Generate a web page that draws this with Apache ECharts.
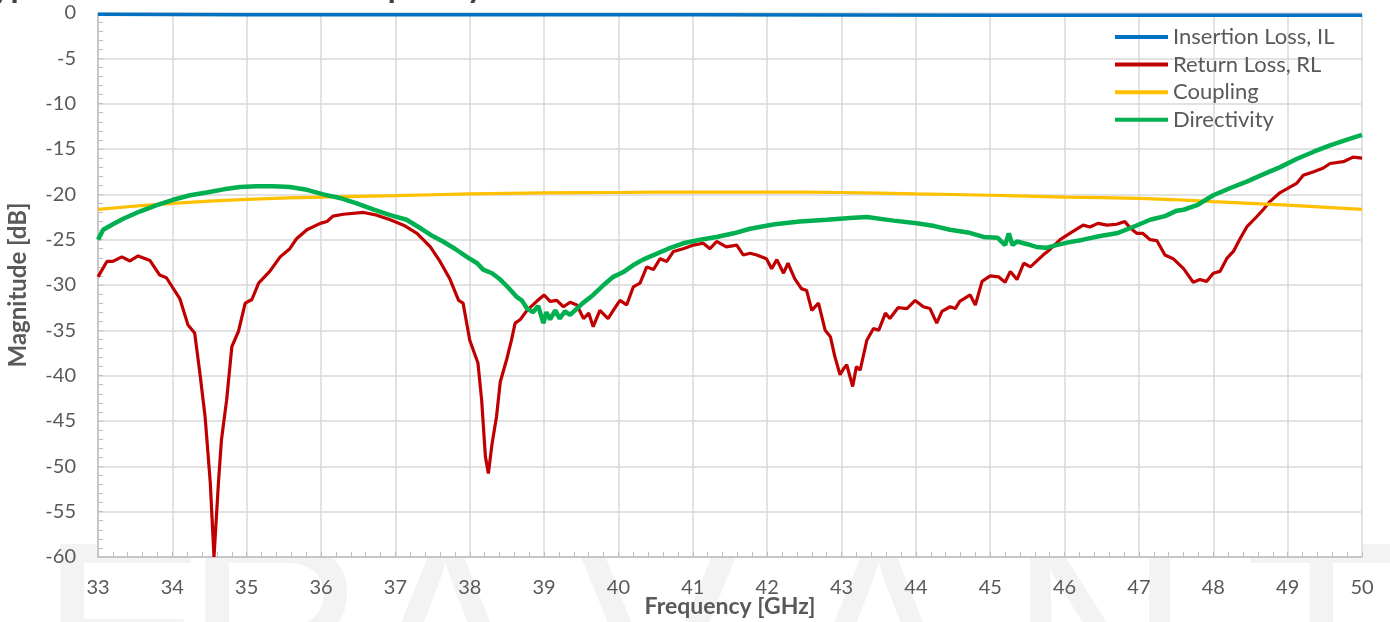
<!DOCTYPE html>
<html><head><meta charset="utf-8">
<script src="https://cdn.jsdelivr.net/npm/echarts@6/dist/echarts.min.js"></script>
<style>html,body{margin:0;padding:0;background:#fff}#c{width:1390px;height:622px}</style>
</head><body><div id="c"></div><script>
const seriesNames = ['Insertion Loss, IL', 'Return Loss, RL', 'Coupling', 'Directivity'];
const xTickLabels = ['33','34','35','36','37','38','39','40','41','42','43','44','45','46','47','48','49','50'];

const ilFreq = [33, 35, 37, 39, 41, 43, 45, 47, 50];
const ilVal  = [-0.15, -0.18, -0.2, -0.2, -0.2, -0.22, -0.24, -0.25, -0.26];

const rlFreq = [33.00,33.12,33.20,33.32,33.43,33.54,33.70,33.83,33.92,34.10,34.21,34.30,34.37,34.44,34.51,34.56,34.62,34.66,34.73,34.80,34.89,34.98,35.07,35.16,35.31,35.45,35.58,35.67,35.81,35.99,36.08,36.16,36.30,36.57,36.75,36.93,37.11,37.29,37.47,37.60,37.73,37.85,37.91,38.00,38.11,38.16,38.21,38.25,38.30,38.36,38.41,38.50,38.56,38.61,38.68,38.77,38.90,39.00,39.08,39.17,39.26,39.35,39.44,39.53,39.60,39.66,39.75,39.86,39.93,40.02,40.11,40.20,40.29,40.38,40.47,40.56,40.65,40.74,40.87,41.01,41.14,41.23,41.32,41.45,41.59,41.68,41.77,41.86,41.99,42.06,42.13,42.22,42.28,42.37,42.46,42.53,42.60,42.69,42.78,42.85,42.91,42.98,43.03,43.07,43.15,43.20,43.25,43.34,43.43,43.50,43.59,43.65,43.76,43.88,43.99,44.10,44.19,44.28,44.35,44.46,44.53,44.59,44.73,44.80,44.89,45.00,45.11,45.20,45.27,45.36,45.45,45.54,45.62,45.71,45.80,45.94,46.07,46.25,46.34,46.45,46.57,46.70,46.81,46.88,46.97,47.05,47.15,47.24,47.35,47.46,47.60,47.73,47.82,47.91,48.00,48.09,48.18,48.27,48.36,48.45,48.58,48.67,48.76,48.90,49.03,49.12,49.21,49.35,49.48,49.57,49.75,49.88,50.00];
const rlVal  = [-29.1,-27.4,-27.4,-26.9,-27.35,-26.8,-27.3,-28.9,-29.2,-31.5,-34.4,-35.3,-39.7,-44.5,-51.8,-60,-51.8,-47.1,-42.7,-36.8,-35.1,-32.0,-31.6,-29.8,-28.5,-26.9,-26.0,-24.9,-23.9,-23.2,-23.0,-22.4,-22.2,-22.0,-22.3,-22.8,-23.4,-24.3,-25.8,-27.4,-29.3,-31.7,-32.0,-36.1,-38.6,-42.7,-48.9,-50.8,-47.5,-44.5,-40.7,-38.1,-36.1,-34.2,-33.8,-32.8,-31.8,-31.1,-31.8,-31.7,-32.4,-31.9,-32.2,-33.7,-33.1,-34.6,-32.8,-33.7,-32.8,-31.7,-32.2,-30.2,-29.8,-28.0,-28.3,-27.1,-27.4,-26.3,-26.0,-25.6,-25.4,-26.0,-25.2,-25.8,-25.6,-26.7,-26.5,-26.7,-27.1,-28.2,-27.2,-28.7,-27.6,-29.3,-30.4,-30.6,-32.8,-32.0,-35.0,-35.7,-37.9,-39.9,-39.2,-38.8,-41.2,-39.0,-39.4,-36.1,-34.8,-35.0,-33.1,-33.7,-32.5,-32.6,-31.7,-32.4,-32.6,-34.2,-32.9,-32.4,-32.6,-31.8,-31.1,-32.2,-29.6,-29.0,-29.1,-29.7,-28.5,-29.4,-27.6,-28.0,-27.4,-26.7,-26.1,-25.0,-24.3,-23.4,-23.6,-23.2,-23.4,-23.3,-23.0,-23.7,-24.3,-24.3,-25.0,-25.1,-26.7,-27.1,-28.2,-29.7,-29.4,-29.6,-28.7,-28.5,-27.1,-26.3,-24.9,-23.6,-22.5,-21.7,-20.8,-19.8,-19.2,-18.8,-17.9,-17.5,-17.1,-16.6,-16.4,-15.9,-16.0];

const cplFreq = [33, 34, 35, 36, 37, 38, 39, 40, 41, 42, 43, 44, 45, 46, 47, 47.5, 48, 49, 50];
const cplVal  = [-21.65, -21.0, -20.55, -20.3, -20.15, -19.95, -19.85, -19.8, -19.75, -19.75, -19.8, -19.95, -20.1, -20.3, -20.45, -20.6, -20.8, -21.2, -21.65];

const dirFreq = [33.00,33.07,33.20,33.34,33.56,33.79,34.01,34.24,34.46,34.69,34.91,35.13,35.36,35.58,35.81,36.03,36.25,36.48,36.70,36.93,37.15,37.35,37.50,37.64,37.80,37.96,38.10,38.18,38.30,38.41,38.52,38.63,38.70,38.77,38.85,38.92,38.99,39.03,39.08,39.15,39.21,39.28,39.35,39.44,39.52,39.66,39.80,39.93,40.06,40.20,40.33,40.47,40.67,40.87,41.10,41.32,41.55,41.77,42.10,42.44,42.80,43.11,43.34,43.70,44.01,44.25,44.46,44.70,44.91,45.10,45.20,45.25,45.30,45.36,45.50,45.62,45.75,45.89,46.05,46.25,46.48,46.70,46.92,47.15,47.35,47.51,47.60,47.78,48.00,48.23,48.45,48.67,48.90,49.12,49.35,49.57,49.79,50.00];
const dirVal  = [-25.0,-23.9,-23.3,-22.7,-21.9,-21.2,-20.6,-20.1,-19.8,-19.45,-19.2,-19.1,-19.1,-19.2,-19.5,-20.0,-20.4,-21.0,-21.65,-22.3,-22.8,-23.8,-24.6,-25.2,-26.0,-26.9,-27.6,-28.3,-28.7,-29.4,-30.3,-31.3,-31.7,-32.6,-33.0,-32.3,-34.2,-33.0,-33.8,-32.8,-33.7,-32.9,-33.3,-32.6,-32.0,-31.1,-30.0,-29.1,-28.6,-27.8,-27.2,-26.7,-26.0,-25.4,-25.0,-24.7,-24.3,-23.8,-23.3,-23.0,-22.8,-22.6,-22.5,-22.9,-23.2,-23.5,-23.9,-24.2,-24.7,-24.8,-25.6,-24.3,-25.6,-25.2,-25.5,-25.8,-25.9,-25.6,-25.3,-25.0,-24.6,-24.3,-23.6,-22.8,-22.4,-21.8,-21.7,-21.2,-20.1,-19.3,-18.6,-17.8,-17.0,-16.1,-15.3,-14.6,-14.0,-13.45];

const watermarkLetters = ['E','R','A','V','A','N','T'];
const watermarkX = [40, 185, 362, 575, 795, 1010, 1245];

const pair = (fs, vs) => fs.map((f, i) => [f, vs[i]]);
const FONT = 'Lato';
const colors = ['#0070c0', '#c00000', '#ffc000', '#00b050'];

const chart = echarts.init(document.getElementById('c'), null, {renderer: 'canvas'});
const graphics = watermarkLetters.map((ch, i) => ({
  type: 'text', z: -10, silent: true,
  style: {text: ch, x: watermarkX[i], y: 523, font: '250px "Liberation Sans"', fill: '#f3f3f3', verticalAlign: 'top'}
}));
graphics.push({
  type: 'text', silent: true,
  style: {text: 'Typical Performance vs. Frequency', x: -24, y: 4, font: 'bold 33px Lato', fill: '#404040', verticalAlign: 'bottom'}
});

chart.setOption({
  animation: false,
  backgroundColor: '#ffffff',
  color: colors,
  textStyle: {fontFamily: FONT},
  graphic: graphics,
  grid: {show: true, backgroundColor: '#ffffff', borderWidth: 0, left: 98, right: 28, top: 13, bottom: 65, containLabel: false, outerBoundsMode: 'none'},
  legend: {
    data: seriesNames, orient: 'vertical', left: 1110, top: 21,
    icon: 'rect', itemWidth: 53, itemHeight: 4, itemGap: 5.6,
    textStyle: {fontFamily: FONT, fontSize: 22, color: '#595959', lineHeight: 22, padding: [0, 0, 0, 0]}
  },
  xAxis: {
    type: 'value', min: 33, max: 50, interval: 1,
    name: 'Frequency [GHz]', nameLocation: 'middle', nameGap: 38, nameMoveOverlap: false,
    nameTextStyle: {fontFamily: FONT, fontWeight: 'bold', fontSize: 23, color: '#595959'},
    axisLine: {show: true, onZero: false, lineStyle: {color: '#bfbfbf', width: 1.5}},
    axisTick: {show: true, inside: true, length: 5, lineStyle: {color: '#bfbfbf'}},
    minorTick: {show: true, splitNumber: 5, length: 5, lineStyle: {color: '#bfbfbf'}},
    splitLine: {show: true, lineStyle: {color: '#d9d9d9', width: 1.5}},
    axisLabel: {margin: 21, fontFamily: FONT, fontSize: 20, color: '#595959',
      formatter: v => xTickLabels[Math.round(v - 33)] ?? ''}
  },
  yAxis: {
    type: 'value', min: -60, max: 0, interval: 5,
    name: 'Magnitude [dB]', nameLocation: 'middle', nameGap: 68, nameRotate: 90, nameMoveOverlap: false,
    nameTextStyle: {fontFamily: FONT, fontWeight: 'bold', fontSize: 24, color: '#595959'},
    axisLine: {show: true, onZero: false, lineStyle: {color: '#bfbfbf', width: 1.5}},
    axisTick: {show: true, inside: true, length: 5, lineStyle: {color: '#bfbfbf'}},
    minorTick: {show: true, splitNumber: 5, length: 5, lineStyle: {color: '#bfbfbf'}},
    splitLine: {show: true, lineStyle: {color: '#d9d9d9', width: 1.5}},
    axisLabel: {margin: 22, fontFamily: FONT, fontSize: 20, color: '#595959'}
  },
  series: [
    {name: seriesNames[0], type: 'line', data: pair(ilFreq, ilVal), showSymbol: false, symbol: 'none', lineStyle: {width: 3.5}, z: 2},
    {name: seriesNames[1], type: 'line', data: pair(rlFreq, rlVal), showSymbol: false, symbol: 'none', lineStyle: {width: 3.2}, z: 3},
    {name: seriesNames[2], type: 'line', data: pair(cplFreq, cplVal), showSymbol: false, symbol: 'none', smooth: true, lineStyle: {width: 3.2}, z: 4},
    {name: seriesNames[3], type: 'line', data: pair(dirFreq, dirVal), showSymbol: false, symbol: 'none', lineStyle: {width: 4.5}, z: 5}
  ]
});
</script></body></html>
